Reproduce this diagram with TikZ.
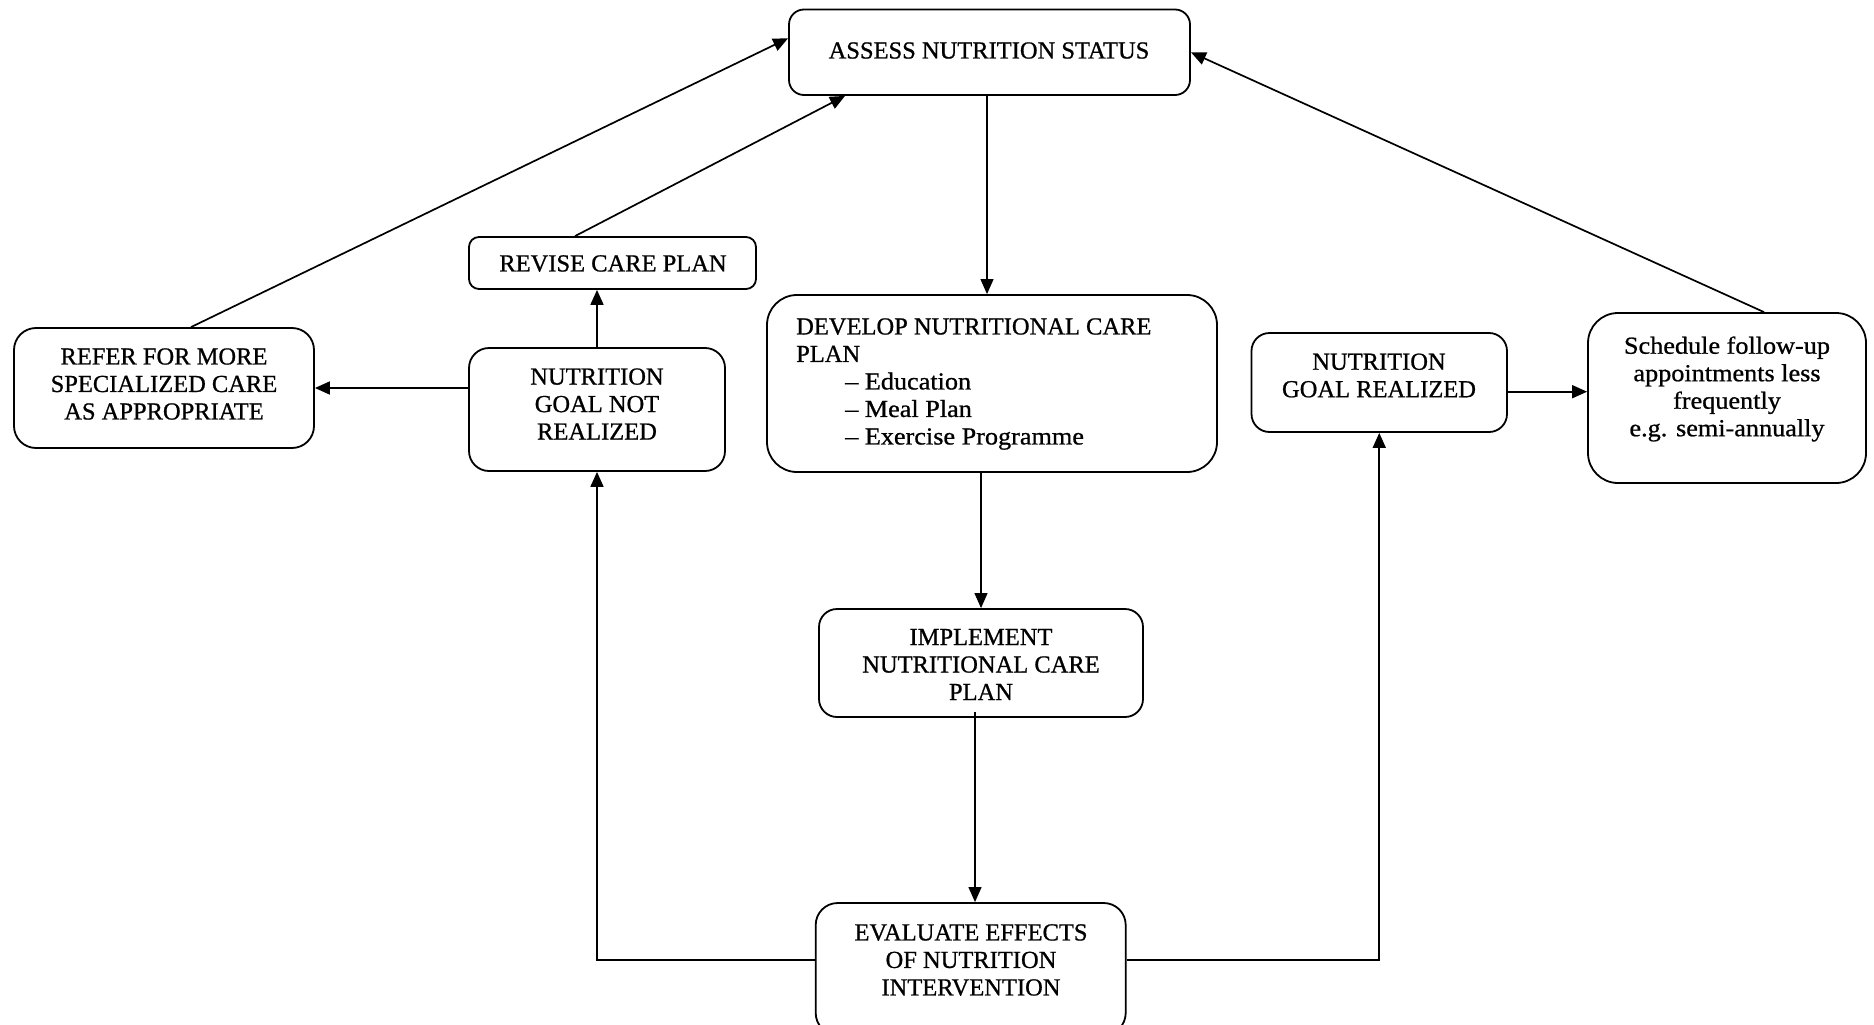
\documentclass[tikz,border=0pt]{standalone}
\usepackage{fontspec}
\setmainfont{Liberation Serif}[FakeBold=0.8]
\newfontfamily\widefont{Liberation Serif}[FakeBold=0.8,FakeStretch=1.07]
\usetikzlibrary{arrows.meta}
\begin{document}
\begin{tikzpicture}[x=1pt,y=-1pt,
  box/.style={draw, line width=1.8pt, inner sep=0pt, fill=white},
  txt/.style={inner sep=0pt, align=center, font=\fontsize{24.5}{27.5}\selectfont},
  arr/.style={line width=1.7pt, -{Triangle[length=15pt,width=13pt]}},
  thinarr/.style={line width=1.2pt, -{Triangle[length=15pt,width=13pt]}},
  plain/.style={line width=1.7pt}]
\useasboundingbox (0,0) rectangle (1874,1025);
\clip (0,0) rectangle (1874,1025);
% boxes
\node[box, minimum width=401pt, minimum height=85.5pt, rounded corners=15pt] (assess) at (989.5,52.25) {};
\node[box, minimum width=287pt, minimum height=52pt, rounded corners=10pt] (revise) at (612.5,263) {};
\node[box, minimum width=300pt, minimum height=120pt, rounded corners=22pt] (refer) at (164,388) {};
\node[box, minimum width=256pt, minimum height=123pt, rounded corners=20pt] (ngnr) at (597,409.5) {};
\node[box, minimum width=450pt, minimum height=177pt, rounded corners=30pt] (dev) at (992,383.5) {};
\node[box, minimum width=255.5pt, minimum height=99pt, rounded corners=18pt] (ngr) at (1379.25,382.5) {};
\node[box, minimum width=278pt, minimum height=170pt, rounded corners=30pt] (sched) at (1727,398) {};
\node[box, minimum width=324pt, minimum height=108pt, rounded corners=18pt] (impl) at (981,663) {};
\node[box, minimum width=310pt, minimum height=132pt, rounded corners=22pt] (eval) at (970.7,969) {};
% texts
\node[txt] (tassess) at (989,50.5) {ASSESS NUTRITION STATUS};
\node[txt] (trevise) at (613,263.5) {REVISE CARE PLAN};
\node[txt] (trefer) at (164,384) {REFER FOR MORE\\SPECIALIZED CARE\\AS APPROPRIATE};
\node[txt] (tngnr) at (597,404) {NUTRITION\\GOAL NOT\\REALIZED};
\node[txt, align=left, anchor=west] (tdev) at (796,384) {DEVELOP NUTRITIONAL CARE\\PLAN\\\hspace*{49pt}{\widefont – Education}\\\hspace*{49pt}{\widefont – Meal Plan}\\\hspace*{49pt}{\widefont – Exercise Programme}};
\node[txt] (tngr) at (1379,375.5) {NUTRITION\\GOAL REALIZED};
\node[txt, font=\fontsize{24.5}{27.5}\widefont] (tsched) at (1727,389) {Schedule follow-up\\appointments less\\frequently\\e.g. semi-annually};
\node[txt] (timpl) at (981,664.5) {IMPLEMENT\\NUTRITIONAL CARE\\PLAN};
\node[txt] (teval) at (971,960) {EVALUATE EFFECTS\\OF NUTRITION\\INTERVENTION};
% connectors
\draw[thinarr] ([xshift=-2.5pt]assess.south) -- ([xshift=-2.5pt]assess.south |- dev.north);
\draw[thinarr] (impl.north |- dev.south) -- (impl.north);
\draw[thinarr] ([xshift=-6pt,yshift=6pt]impl.south) -- ([xshift=-6pt]impl.south |- eval.north);
\draw[arr] ([yshift=9pt]eval.west) -| (ngnr.south);
\draw[arr] ([yshift=9pt]eval.east) -| (ngr.south);
\draw[arr] (ngnr.north) -- (ngnr.north |- revise.south);
\draw[arr] (ngnr.west |- refer.east) -- (refer.east);
\draw[arr] ([yshift=-9.2pt]ngr.east) -- ([yshift=-9.2pt]ngr.east -| sched.west);
\draw[arr] ([xshift=27pt]refer.north) -- ([yshift=14pt]assess.west);
\draw[arr] ([xshift=-37.5pt]revise.north) -- ([xshift=-144.5pt]assess.south);
\draw[arr] ([xshift=37pt]sched.north) -- (assess.east);
\end{tikzpicture}
\end{document}
